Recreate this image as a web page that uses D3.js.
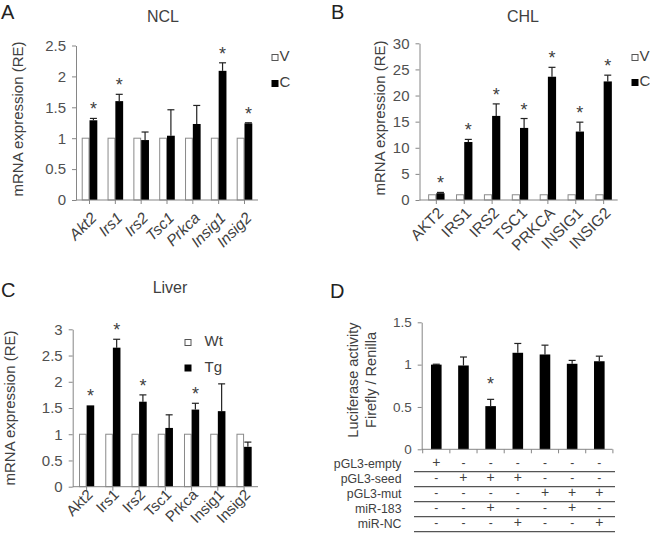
<!DOCTYPE html>
<html><head><meta charset="utf-8">
<script src="https://cdn.jsdelivr.net/npm/d3@7"></script>
<style>
body{margin:0;background:#fff}
text{font-family:"Liberation Sans",Arial,sans-serif}
</style>
</head><body>
<svg id="c" width="650" height="538"></svg>
<script>
// ---------- DATA ----------
const catsA = ["Akt2","Irs1","Irs2","Tsc1","Prkca","Insig1","Insig2"];
const seriesA = ["V","C"];
const valsA_V = [1,1,1,1,1,1,1];
const valsA_C = [1.29,1.60,0.97,1.04,1.23,2.09,1.24];
const errA_C = [0.03,0.11,0.13,0.42,0.30,0.13,0.01];
const sigA = [1,1,0,0,0,1,1];
const ticksA = [0,0.5,1,1.5,2,2.5];

const catsB = ["AKT2","IRS1","IRS2","TSC1","PRKCA","INSIG1","INSIG2"];
const seriesB = ["V","C"];
const valsB_V = [1,1,1,1,1,1,1];
const valsB_C = [1.3,11.1,16.1,13.8,23.6,13.1,22.7];
const errB_C = [0.15,0.5,2.3,1.8,1.8,1.8,1.2];
const sigB = [1,1,1,1,1,1,1];
const ticksB = [0,5,10,15,20,25,30];

const catsC = ["Akt2","Irs1","Irs2","Tsc1","Prkca","Insig1","Insig2"];
const seriesC = ["Wt","Tg"];
const valsC_Wt = [1,1,1,1,1,1,1];
const valsC_Tg = [1.55,2.65,1.62,1.12,1.47,1.44,0.76];
const errC_Tg = [0,0.16,0.13,0.25,0.12,0.52,0.09];
const sigC = [1,1,1,0,1,0,0];
const ticksC = [0,0.5,1,1.5,2,2.5,3];

const catsD = ["1","2","3","4","5","6","7"];
const valsD = [1.0,0.99,0.51,1.14,1.12,1.01,1.04];
const errD = [0.005,0.10,0.08,0.11,0.11,0.04,0.06];
const sigD = [0,0,1,0,0,0,0];
const ticksD = [0,0.5,1,1.5];
const rowLabelsD = ["pGL3-empty","pGL3-seed","pGL3-mut","miR-183","miR-NC"];
const rowSignsD = [
  ["+","-","-","-","-","-","-"],
  ["-","+","+","+","-","-","-"],
  ["-","-","-","-","+","+","+"],
  ["-","-","+","-","-","+","-"],
  ["-","-","-","+","-","-","+"]
];

// ---------- DRAWING ----------
const svg = d3.select("#c");
const AX = "#868686", TXT = "#404040", TICK = "#505050";
const FF = '"Liberation Sans",Arial,sans-serif';

function axisY(g, y, ax, ticks, fs) {
  const a = d3.axisLeft(y).tickValues(ticks).tickSize(4).tickSizeOuter(0).tickFormat(d => String(d));
  const ag = g.append("g").attr("transform", `translate(${ax},0)`).call(a);
  ag.select(".domain").attr("stroke", AX);
  ag.selectAll(".tick line").attr("stroke", AX);
  ag.selectAll(".tick text").attr("fill", TICK).attr("font-size", fs)
    .attr("font-family", FF).attr("x", -10);
}

function grouped(cfg) {
  const g = svg.append("g");
  const y = d3.scaleLinear().domain([0, cfg.max]).range([cfg.y0, cfg.yTop]);
  const x = d3.scaleBand().domain(cfg.cats).range([cfg.bx0, cfg.bx1]);
  const inner = d3.scaleBand().domain(cfg.series).range([-cfg.bw, cfg.bw]);
  const rows = cfg.cats.map((c, i) => ({c, a: cfg.v1[i], b: cfg.v2[i], e: cfg.err[i], s: cfg.sig[i]}));

  g.selectAll(".b1").data(rows).enter().append("rect")
    .attr("x", d => x(d.c) + x.bandwidth()/2 + inner(cfg.series[0]) + 0.5)
    .attr("width", inner.bandwidth() - 1)
    .attr("y", d => y(d.a)).attr("height", d => y(0) - y(d.a))
    .attr("fill", "#fff").attr("stroke", "#8a8a8a").attr("stroke-width", 1);
  const cx = d => x(d.c) + x.bandwidth()/2 + inner(cfg.series[1]) + inner.bandwidth()/2;
  g.selectAll(".el").data(rows.filter(d => d.e > 0)).enter().append("line")
    .attr("x1", cx).attr("x2", cx).attr("y1", d => y(d.b)).attr("y2", d => y(d.b + d.e))
    .attr("stroke", "#222").attr("stroke-width", 1.2);
  g.selectAll(".ec").data(rows.filter(d => d.e > 0)).enter().append("line")
    .attr("x1", d => cx(d) - 3.5).attr("x2", d => cx(d) + 3.5)
    .attr("y1", d => y(d.b + d.e)).attr("y2", d => y(d.b + d.e))
    .attr("stroke", "#222").attr("stroke-width", 1.2);
  g.selectAll(".b2").data(rows).enter().append("rect")
    .attr("x", d => x(d.c) + x.bandwidth()/2 + inner(cfg.series[1]))
    .attr("width", inner.bandwidth())
    .attr("y", d => y(d.b)).attr("height", d => y(0) - y(d.b))
    .attr("fill", "#000");
  g.selectAll(".st").data(rows.filter(d => d.s)).enter().append("text")
    .attr("x", cx).attr("y", d => y(d.b + d.e) - cfg.starOff)
    .attr("text-anchor", "middle").attr("font-size", 18).attr("fill", TXT).text("*");

  axisY(g, y, cfg.ax, cfg.ticks, cfg.tickFs);
  g.append("line").attr("x1", cfg.ax).attr("x2", cfg.axEnd).attr("y1", cfg.y0).attr("y2", cfg.y0).attr("stroke", AX);
  const xb = d3.axisBottom(x).tickSize(4).tickSizeOuter(0);
  const xg = g.append("g").attr("transform", `translate(0,${cfg.y0})`).call(xb);
  xg.select(".domain").remove();
  xg.selectAll(".tick line").attr("stroke", AX);
  xg.selectAll(".tick text").attr("fill", TXT).attr("font-size", cfg.xFs)
    .attr("font-family", FF)
    .attr("font-style", cfg.italic ? "italic" : "normal")
    .attr("text-anchor", "end").attr("dy", 0).attr("y", 0)
    .attr("transform", `translate(${cfg.lx},${cfg.ly}) rotate(-45)`);

  g.append("text").attr("transform", `translate(${cfg.ytx},${cfg.yty}) rotate(-90)`)
    .attr("text-anchor", "middle").attr("font-size", 15).attr("fill", TXT).text("mRNA expression (RE)");
  g.append("text").attr("x", cfg.tx).attr("y", cfg.ty).attr("text-anchor", "middle")
    .attr("font-size", 16).attr("fill", TXT).text(cfg.title);
  g.append("text").attr("x", cfg.px).attr("y", cfg.py).attr("font-size", 20).attr("fill", "#222").text(cfg.letter);
  cfg.series.forEach((s, i) => {
    g.append("rect").attr("x", cfg.lgx + 0.5).attr("y", cfg.lgy + i * cfg.lgdy - 7 + 0.5).attr("width", 6).attr("height", 6)
      .attr("fill", i === 0 ? "#fff" : "#000").attr("stroke", i === 0 ? "#555" : "#000");
    g.append("text").attr("x", cfg.lgx + cfg.lgtx).attr("y", cfg.lgy + i * cfg.lgdy).attr("font-size", 15)
      .attr("fill", TXT).text(s);
  });
}

grouped({cats: catsA, series: seriesA, v1: valsA_V, v2: valsA_C, err: errA_C, sig: sigA, ticks: ticksA,
  max: 2.5, y0: 200, yTop: 45.5, bx0: 76.6, bx1: 257.4, bw: 7.8, ax: 76, axEnd: 258,
  tickFs: 15, xFs: 15.5, italic: true, lx: 8, ly: 19, starOff: 3,
  ytx: 23, yty: 119, title: "NCL", tx: 163, ty: 22, letter: "A", px: 1, py: 19,
  lgx: 271.5, lgy: 61, lgdy: 26, lgtx: 8});

grouped({cats: catsB, series: seriesB, v1: valsB_V, v2: valsB_C, err: errB_C, sig: sigB, ticks: ticksB,
  max: 30, y0: 200, yTop: 43.3, bx0: 422.4, bx1: 617.6, bw: 8.2, ax: 419.5, axEnd: 617.7,
  tickFs: 15, xFs: 15.5, italic: false, lx: 8, ly: 14, starOff: 3,
  ytx: 384.5, yty: 118, title: "CHL", tx: 523, ty: 22, letter: "B", px: 331, py: 19,
  lgx: 631.5, lgy: 61, lgdy: 25, lgtx: 8});

grouped({cats: catsC, series: seriesC, v1: valsC_Wt, v2: valsC_Tg, err: errC_Tg, sig: sigC, ticks: ticksC,
  max: 3, y0: 486.7, yTop: 329.3, bx0: 73.5, bx1: 257.2, bw: 7.6, ax: 72.7, axEnd: 258,
  tickFs: 15, xFs: 15, italic: false, lx: 7, ly: 9, starOff: 3,
  ytx: 15, yty: 408, title: "Liver", tx: 170, ty: 293, letter: "C", px: 1, py: 297,
  lgx: 184.5, lgy: 346, lgdy: 25.5, lgtx: 20});

// ---------- PANEL D ----------
(function () {
  const g = svg.append("g");
  const y = d3.scaleLinear().domain([0, 1.5]).range([449.3, 322.3]);
  const x = d3.scaleBand().domain(catsD).range([422.7, 612.9]);
  const bw = 10.6;
  const rows = catsD.map((c, i) => ({c, v: valsD[i], e: errD[i], s: sigD[i]}));
  const cx = d => x(d.c) + x.bandwidth()/2;
  g.selectAll(".el").data(rows).enter().append("line")
    .attr("x1", cx).attr("x2", cx).attr("y1", d => y(d.v)).attr("y2", d => y(d.v + d.e))
    .attr("stroke", "#222").attr("stroke-width", 1.2);
  g.selectAll(".ec").data(rows).enter().append("line")
    .attr("x1", d => cx(d) - 3.5).attr("x2", d => cx(d) + 3.5)
    .attr("y1", d => y(d.v + d.e)).attr("y2", d => y(d.v + d.e))
    .attr("stroke", "#222").attr("stroke-width", 1.2);
  g.selectAll(".b").data(rows).enter().append("rect")
    .attr("x", d => cx(d) - bw/2).attr("width", bw)
    .attr("y", d => y(d.v)).attr("height", d => y(0) - y(d.v)).attr("fill", "#000");
  g.selectAll(".st").data(rows.filter(d => d.s)).enter().append("text")
    .attr("x", cx).attr("y", d => y(d.v + d.e) - 9)
    .attr("text-anchor", "middle").attr("font-size", 18).attr("fill", TXT).text("*");

  axisY(g, y, 421.7, ticksD, 13.5);
  g.append("line").attr("x1", 421.7).attr("x2", 612.5).attr("y1", 449.3).attr("y2", 449.3).attr("stroke", AX);
  const bounds = catsD.map(c => x(c)).concat([x.range()[1]]);
  g.selectAll(".bt").data(bounds).enter().append("line")
    .attr("x1", d => d).attr("x2", d => d).attr("y1", 449.3).attr("y2", 453.3).attr("stroke", AX);

  g.append("text").attr("transform", "translate(357.5,380) rotate(-90)").attr("text-anchor", "middle")
    .attr("font-size", 14.5).attr("fill", TXT).text("Luciferase activity");
  g.append("text").attr("transform", "translate(376,380) rotate(-90)").attr("text-anchor", "middle")
    .attr("font-size", 14.5).attr("fill", TXT).text("Firefly / Renilla");
  g.append("text").attr("x", 330).attr("y", 298).attr("font-size", 20).attr("fill", "#222").text("D");

  const rowY = d3.scaleBand().domain(rowLabelsD).range([456.7, 531.7]);
  rowLabelsD.forEach((lab, r) => {
    const yb = rowY(lab) + rowY.bandwidth();
    g.append("text").attr("x", 401.5).attr("y", yb - 4).attr("text-anchor", "end")
      .attr("font-size", 12.3).attr("fill", TXT).text(lab);
    g.append("line").attr("x1", 414).attr("x2", 615).attr("y1", yb).attr("y2", yb)
      .attr("stroke", "#555").attr("stroke-width", 1.2);
    rowSignsD[r].forEach((s, i) => {
      g.append("text").attr("x", x(catsD[i]) + x.bandwidth()/2).attr("y", yb - 5)
        .attr("text-anchor", "middle").attr("font-size", s === "+" ? 14 : 12)
        .attr("fill", TXT).text(s);
    });
  });
})();
</script>
</body></html>
